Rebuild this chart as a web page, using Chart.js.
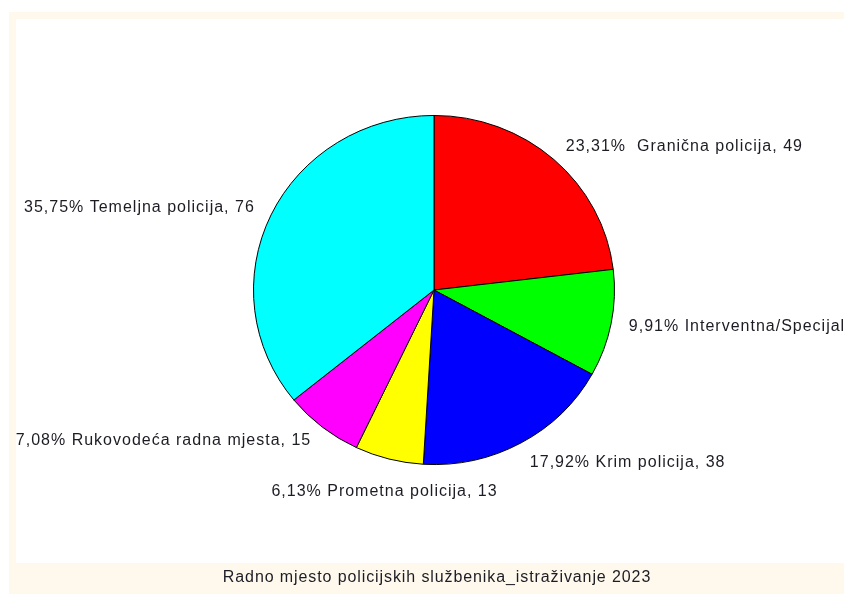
<!DOCTYPE html>
<html>
<head>
<meta charset="utf-8">
<script src="https://cdn.jsdelivr.net/npm/chart.js@4"></script>
<style>
    html, body { margin: 0; padding: 0; background: #ffffff; overflow: hidden; }
    #wrap { width: 844px; height: 594px; position: relative; }
    canvas { display: block; }
</style>
</head>
<body>
<div id="wrap"><canvas id="grafico-pita" width="844" height="594"></canvas></div>
<script>
// podaci
const kategorije = ['Granična policija', 'Interventna/Specijalna policija', 'Krim policija', 'Prometna policija', 'Rukovodeća radna mjesta', 'Temeljna policija'];
const vrijednosti = [49, 21, 38, 13, 15, 76];
const postoci = ['23,31%  ', '9,91% ', '17,92% ', '6,13% ', '7,08% ', '35,75% '];
const boje = ['#ff0000', '#00ff00', '#0000ff', '#ffff00', '#ff00ff', '#00ffff'];
const naslov = 'Radno mjesto policijskih službenika_istraživanje 2023';

const omjerY = 0.967; // pita je malo spljostena

const canvasPita = document.getElementById('grafico-pita');

// okvir i naslov
const pluginOkvir = {
    id: 'okvir',
    beforeDraw(chart) {
        const ctx = chart.ctx;
        ctx.save();
        ctx.fillStyle = '#ffffff';
        ctx.fillRect(0, 0, chart.width, chart.height);
        ctx.fillStyle = '#fff9ed';
        ctx.fillRect(9, 12, chart.width - 9, chart.height - 12);
        ctx.fillStyle = '#ffffff';
        ctx.fillRect(16, 19, chart.width - 16, 563 - 19);
        ctx.fillStyle = '#1c1c24';
        ctx.font = '16px "Liberation Sans", Arial, sans-serif';
        ctx.letterSpacing = '0.9px';
        ctx.textAlign = 'center';
        ctx.textBaseline = 'middle';
        ctx.fillText(naslov, 437, 578);
        ctx.restore();
    },
    beforeDatasetsDraw(chart) {
        const ctx = chart.ctx;
        const a = chart.chartArea;
        const cy = (a.top + a.bottom) / 2;
        ctx.save();
        ctx.translate(0, cy);
        ctx.scale(1, omjerY);
        ctx.translate(0, -cy);
    },
    afterDatasetsDraw(chart) {
        chart.ctx.restore();
        // natpisi uz kriske
        const ctx = chart.ctx;
        const meta = chart.getDatasetMeta(0);
        ctx.save();
        ctx.fillStyle = '#1c1c24';
        ctx.font = '16px "Liberation Sans", Arial, sans-serif';
        ctx.letterSpacing = '1px';
        meta.data.forEach(function (luk, i) {
            const p = luk.getProps(['x', 'y', 'startAngle', 'endAngle', 'outerRadius'], true);
            const kut = (p.startAngle + p.endAngle) / 2;
            const r = p.outerRadius + 18;
            const cosk = Math.cos(kut);
            const sink = Math.sin(kut);
            let x = p.x + r * cosk;
            let y = p.y + r * sink * omjerY;
            if (cosk > 0.3) {
                ctx.textAlign = 'left';
                if (sink > 0.5) y += 4;
            } else if (cosk < -0.3) {
                ctx.textAlign = 'right';
            } else {
                ctx.textAlign = 'center';
                y += 16;
            }
            ctx.textBaseline = 'middle';
            ctx.fillText(postoci[i] + kategorije[i] + ', ' + vrijednosti[i], x, y);
        });
        ctx.restore();
    }
};

const graficoPita = new Chart(canvasPita, {
    type: 'pie',
    data: {
        labels: kategorije,
        datasets: [{
            data: vrijednosti,
            backgroundColor: boje,
            hoverBackgroundColor: boje,
            borderColor: '#000000',
            borderWidth: 1
        }]
    },
    options: {
        responsive: false,
        animation: false,
        layout: {
            padding: { top: 109, bottom: 123, left: 200, right: 176 }
        },
        plugins: {
            legend: { display: false },
            tooltip: { enabled: false }
        }
    },
    plugins: [pluginOkvir]
});
</script>
</body>
</html>
